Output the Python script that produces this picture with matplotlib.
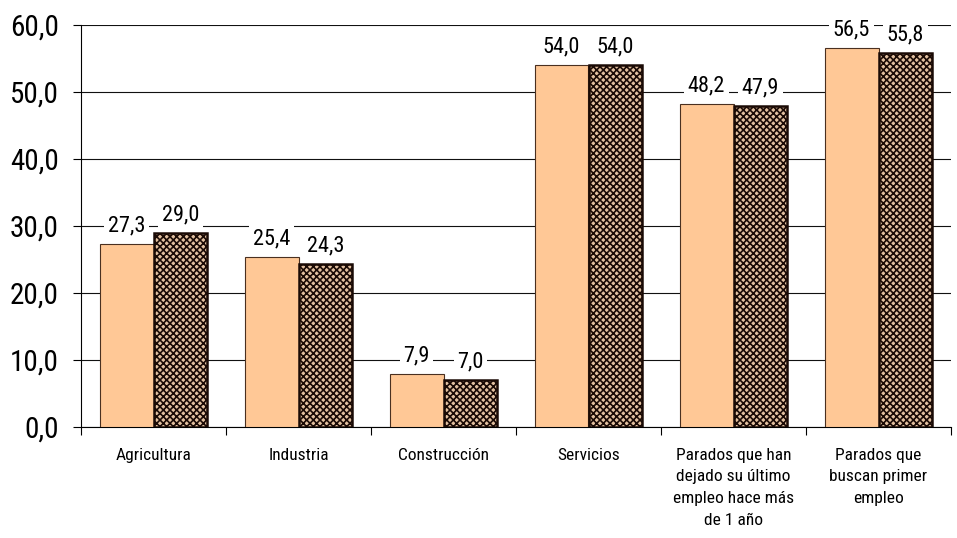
import numpy as np
import matplotlib.pyplot as plt
from matplotlib.ticker import FuncFormatter

plt.rcParams['font.family'] = ['Roboto Condensed', 'DejaVu Sans']
plt.rcParams['hatch.color'] = '#76321a'
plt.rcParams['hatch.linewidth'] = 1.2

# Data
categorias = ['Agricultura', 'Industria', 'Construcción', 'Servicios',
              'Parados que han\ndejado su último\nempleo hace más\nde 1 año',
              'Parados que\nbuscan primer\nempleo']
serie_1 = [27.3, 25.4, 7.9, 54.0, 48.2, 56.5]
serie_2 = [29.0, 24.3, 7.0, 54.0, 47.9, 55.8]

fig = plt.figure(figsize=(9.57, 5.38), dpi=100)
ax = fig.add_axes([81 / 957, 111 / 538, 870 / 957, 402 / 538])

x = np.arange(len(categorias))
w = 0.372
b1 = ax.bar(x - w / 2, serie_1, w, color='#ffc896', edgecolor='#4a3020', linewidth=0.8, zorder=3)
b2 = ax.bar(x + w / 2, serie_2, w, color='#e2c0a0', edgecolor='#1a0a05', linewidth=1.8,
            hatch='xxxxx', zorder=3)

def fmt(v):
    return f'{v:.1f}'.replace('.', ',')

for bars, vals in ((b1, serie_1), (b2, serie_2)):
    for r, v in zip(bars, vals):
        ax.text(r.get_x() + r.get_width() / 2, v + 1.9, fmt(v), ha='center', va='baseline',
                fontsize=16, zorder=4,
                bbox=dict(facecolor='white', edgecolor='none', pad=2.5))

ax.set_xlim(-0.5, len(categorias) - 0.5)
ax.set_ylim(0, 60)
ax.set_yticks(np.arange(0, 61, 10))
ax.yaxis.set_major_formatter(FuncFormatter(lambda v, p: fmt(v)))
ax.tick_params(axis='y', labelsize=21, length=6, width=0.8, direction='out', pad=10)
ax.yaxis.grid(True, color='#111111', linewidth=0.8, zorder=0)

ax.set_xticks(x)
ax.set_xticklabels(categorias, fontsize=12.5, linespacing=1.55)
ax.tick_params(axis='x', length=0, pad=15)
ax.set_xticks(np.arange(-0.5, len(categorias) - 0.4, 1), minor=True)
ax.tick_params(axis='x', which='minor', length=6, width=0.8, direction='out')

for s in ['top', 'right']:
    ax.spines[s].set_visible(False)
ax.spines['left'].set_linewidth(0.8)
ax.spines['bottom'].set_linewidth(0.8)

fig.savefig('out.png', dpi=100)
